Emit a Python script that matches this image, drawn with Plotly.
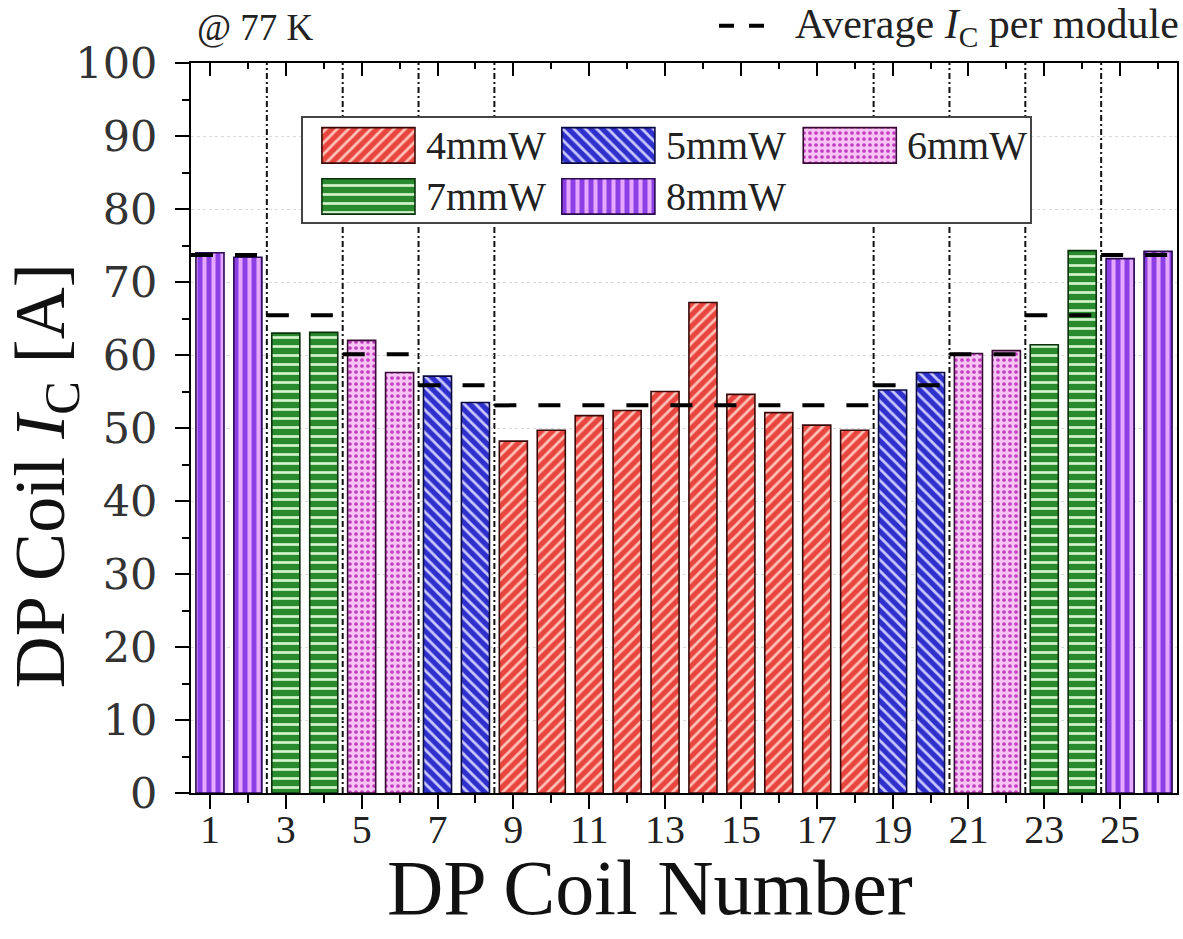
import plotly.graph_objects as go

# ---- data -------------------------------------------------------------
coil_no = list(range(1, 27))
ic_values = [74.0, 73.4, 63.0, 63.1, 62.0, 57.6, 57.1, 53.5, 48.2, 49.7,
             51.7, 52.4, 55.0, 67.2, 54.6, 52.1, 50.4, 49.7, 55.2, 57.6,
             60.2, 60.6, 61.4, 74.3, 73.2, 74.2]
tape_width = [8, 8, 7, 7, 6, 6, 5, 5, 4, 4, 4, 4, 4, 4, 4, 4, 4, 4,
              5, 5, 6, 6, 7, 7, 8, 8]
width_labels = ["4mmW", "5mmW", "6mmW", "7mmW", "8mmW"]
y_ticks = list(range(0, 101, 10))

# ---- styles per tape width -------------------------------------------
style = {
    4: dict(bg="#e8453f", fg="#ffc2b8", shape="/", size=8, sol=0.35, line="#3a0a08"),
    5: dict(bg="#2f2fcc", fg="#c8c8ff", shape="\\", size=8, sol=0.35, line="#0a0a40"),
    6: dict(bg="#f7c4f4", fg="#c23cc2", shape=".", size=6, sol=0.3, line="#3a0a36"),
    7: dict(bg="#2a8a2e", fg="#d4f4cc", shape="-", size=9, sol=0.3, line="#0a300c"),
    8: dict(bg="#8b3fe4", fg="#e6a8ff", shape="|", size=9, sol=0.45, line="#2a0a50"),
}
SERIF = "Liberation Serif"
BAR_W = 0.74

fig = go.Figure()

# ---- bars, one trace per tape width -----------------------------------
for w in [4, 5, 6, 7, 8]:
    s = style[w]
    xs = [c for c, tw in zip(coil_no, tape_width) if tw == w]
    ys = [v for v, tw in zip(ic_values, tape_width) if tw == w]
    fig.add_trace(go.Bar(
        x=xs, y=ys, width=BAR_W, name=f"{w}mmW", showlegend=False,
        marker=dict(color=s["bg"], line=dict(color=s["line"], width=1.6),
                    pattern=dict(shape=s["shape"], fgcolor=s["fg"], bgcolor=s["bg"],
                                 size=s["size"], solidity=s["sol"], fillmode="replace")),
        hoverinfo="skip"))

# ---- module sections (contiguous runs of same tape width) -------------
sections = []
start = 0
for i in range(1, len(coil_no) + 1):
    if i == len(coil_no) or tape_width[i] != tape_width[start]:
        sections.append((start, i - 1))
        start = i

# module average: mean over all coils of the same tape width
module_avg = {w: sum(v for v, tw in zip(ic_values, tape_width) if tw == w) /
              sum(1 for tw in tape_width if tw == w) for w in set(tape_width)}

for a, b in sections:
    w = tape_width[a]
    fig.add_trace(go.Scatter(
        x=[coil_no[a] - 0.5, coil_no[b] + 0.5], y=[module_avg[w]] * 2,
        mode="lines", line=dict(color="black", width=4, dash="22px,22px"),
        showlegend=False, hoverinfo="skip"))

# module separators
for a, b in sections[:-1]:
    xb = coil_no[b] + 0.5
    fig.add_shape(type="line", xref="x", yref="y", x0=xb, x1=xb, y0=0, y1=100,
                  layer="below", line=dict(color="#111", width=2, dash="6px,3px,2px,3px"))

# ---- custom legend block (own small axes) ------------------------------
leg_cols = [0.09, 0.42, 0.752]
leg_rows = [0.567, 0.077]
sw_w, sw_h = 0.128, 0.34
for k, w in enumerate([4, 5, 6, 7, 8]):
    s = style[w]
    col = leg_cols[k % 3]
    row = leg_rows[k // 3]
    fig.add_trace(go.Bar(
        x=[col], y=[sw_h], base=[row], width=sw_w, xaxis="x2", yaxis="y2",
        showlegend=False, hoverinfo="skip",
        marker=dict(color=s["bg"], line=dict(color=s["line"], width=1.6),
                    pattern=dict(shape=s["shape"], fgcolor=s["fg"], bgcolor=s["bg"],
                                 size=s["size"], solidity=s["sol"], fillmode="replace"))))
    fig.add_annotation(xref="x2", yref="y2", x=col + sw_w / 2 + 0.012, y=row + sw_h / 2,
                       text=width_labels[k], showarrow=False, xanchor="left", yanchor="middle",
                       font=dict(family=SERIF, size=40, color="#222"))

fig.add_shape(type="rect", xref="x2", yref="y2", x0=0, x1=1, y0=0, y1=1,
              layer="below", fillcolor="white", line=dict(width=0))

# invisible helper so the top tick axis gets drawn
fig.add_trace(go.Scatter(x=[1], y=[0], xaxis="x3", mode="markers",
                         marker=dict(opacity=0), showlegend=False, hoverinfo="skip"))

# ---- average legend sample + text labels ------------------------------
fig.add_shape(type="line", xref="paper", yref="paper", x0=0.5355, x1=0.589, y0=1.051, y1=1.051,
              line=dict(color="black", width=4, dash="15px,15px"))
fig.add_annotation(xref="paper", yref="paper", x=1.004, y=1.049, xanchor="right", yanchor="middle",
                   text="Average <i>I</i><sub>C</sub> per module", showarrow=False,
                   font=dict(family=SERIF, size=42, color="#222"))
fig.add_annotation(xref="paper", yref="paper", x=0.004, y=1.049, xanchor="left", yanchor="middle",
                   text="@ 77 K", showarrow=False,
                   font=dict(family=SERIF, size=37, color="#222"))
fig.add_annotation(xref="paper", yref="paper", x=0.4655, y=-0.129, xanchor="center", yanchor="middle",
                   text="DP Coil Number", showarrow=False,
                   font=dict(family=SERIF, size=78, color="#111"))
fig.add_annotation(xref="paper", yref="paper", x=-0.148, y=0.434, xanchor="center", yanchor="middle",
                   text="DP Coil <i>I</i><sub>C</sub> [A]", textangle=-90, showarrow=False,
                   font=dict(family=SERIF, size=72, color="#111"))

axis_line = dict(showline=True, linecolor="black", linewidth=2)
fig.update_layout(
    template="none",
    width=1183, height=939,
    margin=dict(l=191, r=6, t=63, b=146, autoexpand=False),
    paper_bgcolor="white", plot_bgcolor="white",
    barmode="overlay", hovermode=False,
    xaxis=dict(range=[0.5, 26.5], tickmode="array", tickvals=coil_no[::2], ticks="outside",
               ticklen=14, tickwidth=2, tickcolor="black", mirror=True, showgrid=False,
               zeroline=False, ticklabelstandoff=-14,
               tickfont=dict(family=SERIF, size=40, color="#222"),
               minor=dict(tickmode="array", tickvals=coil_no[1::2], ticks="outside",
                          ticklen=8, tickwidth=2, tickcolor="black"),
               **axis_line),
    xaxis3=dict(range=[0.5, 26.5], overlaying="x", side="top", tickmode="array",
                tickvals=coil_no[::2], ticks="inside", ticklen=13, tickwidth=2,
                tickcolor="black", showticklabels=False, showgrid=False, zeroline=False,
                minor=dict(tickmode="array", tickvals=coil_no[1::2], ticks="inside",
                           ticklen=6, tickwidth=2, tickcolor="black")),
    yaxis=dict(range=[0, 100], tickmode="array", tickvals=y_ticks, ticks="outside",
               ticklen=14, tickwidth=2, tickcolor="black", mirror=True, zeroline=False,
               showgrid=True, gridcolor="#d6ddd6", gridwidth=1, griddash="dot",
               ticklabelstandoff=9,
               tickfont=dict(family="DejaVu Serif", size=43, color="#333"),
               minor=dict(dtick=5, tick0=0, ticks="outside", ticklen=7, tickwidth=2,
                          tickcolor="black", showgrid=False),
               **axis_line),
    xaxis2=dict(domain=[0.1136, 0.851], range=[0, 1], anchor="y2", showline=True,
                mirror=True, linecolor="#444", linewidth=1.5, showgrid=False,
                zeroline=False, showticklabels=False, ticks=""),
    yaxis2=dict(domain=[0.782, 0.9247], range=[0, 1], anchor="x2", showline=True,
                mirror=True, linecolor="#444", linewidth=1.5, showgrid=False,
                zeroline=False, showticklabels=False, ticks=""),
)

fig.write_html("out.html")
